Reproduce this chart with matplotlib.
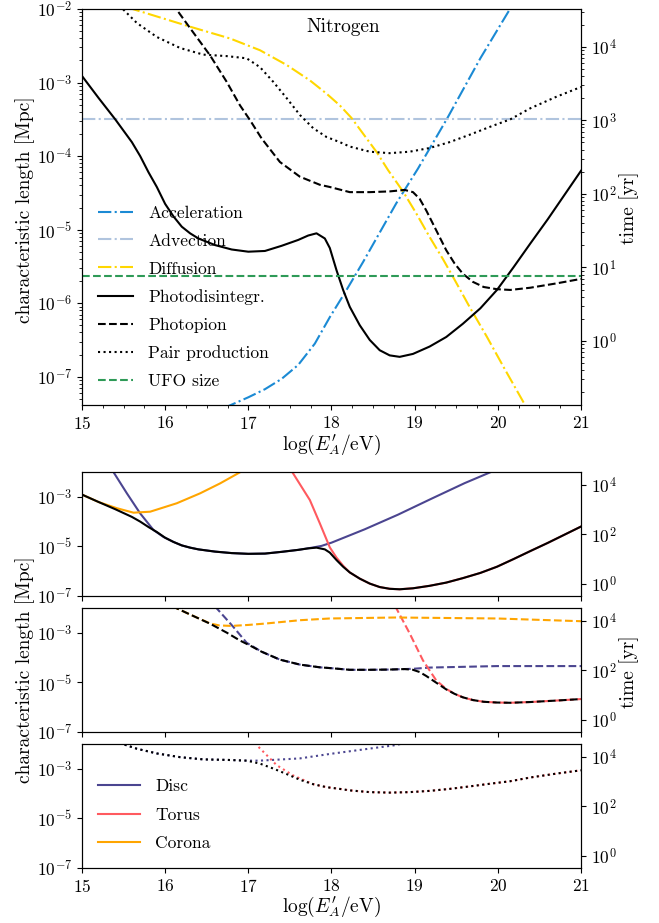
import numpy as np
import matplotlib
matplotlib.use("Agg")
import matplotlib.pyplot as plt
from matplotlib.lines import Line2D
from matplotlib.ticker import AutoMinorLocator, NullLocator

plt.rcParams["font.family"] = "serif"
plt.rcParams["font.serif"] = ["cmr10"]
plt.rcParams["mathtext.fontset"] = "cm"
plt.rcParams["axes.formatter.use_mathtext"] = True
plt.rcParams["axes.unicode_minus"] = False

# ---------------------------------------------------------------------------
# data: log10(E'_A / eV) and log10(characteristic length / Mpc)
# ---------------------------------------------------------------------------
MPC_TO_YR = 3.2616e6          # light travel time of 1 Mpc in yr

E_pd = [15.0, 15.2, 15.4, 15.6, 15.7, 15.8, 15.9, 16.0, 16.1, 16.2, 16.3, 16.4,
        16.6, 16.8, 17.0, 17.2, 17.4, 17.6, 17.72, 17.82, 17.92, 17.98, 18.06,
        18.14, 18.22, 18.34, 18.46, 18.58, 18.70, 18.82, 18.98, 19.18, 19.38,
        19.58, 19.79, 19.99, 20.19, 20.39, 20.6, 20.8, 21.0]
L_pd = [-2.91, -3.21, -3.50, -3.81, -4.00, -4.22, -4.42, -4.65, -4.82, -4.96,
        -5.05, -5.12, -5.21, -5.27, -5.30, -5.29, -5.22, -5.14, -5.08, -5.05,
        -5.12, -5.25, -5.55, -5.82, -6.05, -6.30, -6.50, -6.64, -6.71, -6.73,
        -6.69, -6.59, -6.46, -6.28, -6.07, -5.82, -5.51, -5.19, -4.86, -4.53,
        -4.20]

E_pp = [16.08, 16.14, 16.30, 16.54, 16.74, 16.90, 17.02, 17.16, 17.38, 17.62,
        17.86, 17.98, 18.22, 18.46, 18.70, 18.88, 18.98, 19.06, 19.14, 19.22,
        19.30, 19.38, 19.48, 19.58, 19.70, 19.83, 19.99, 20.15, 20.39, 20.71,
        21.0]
L_pp = [-1.92, -2.01, -2.26, -2.63, -2.99, -3.31, -3.51, -3.76, -4.08, -4.28,
        -4.39, -4.42, -4.49, -4.49, -4.48, -4.46, -4.49, -4.58, -4.74, -4.92,
        -5.10, -5.28, -5.46, -5.60, -5.71, -5.78, -5.81, -5.82, -5.79, -5.73,
        -5.67]

E_pair = [15.45, 15.50, 15.66, 15.90, 16.18, 16.46, 16.74, 16.98, 17.14, 17.30,
          17.46, 17.62, 17.78, 17.94, 18.10, 18.22, 18.46, 18.70, 18.94, 19.18,
          19.42, 19.66, 19.91, 20.15, 20.39, 20.71, 21.0]
L_pair = [-1.95, -2.01, -2.19, -2.38, -2.53, -2.62, -2.64, -2.67, -2.79, -2.99,
          -3.21, -3.44, -3.62, -3.74, -3.81, -3.87, -3.94, -3.96, -3.94, -3.89,
          -3.81, -3.71, -3.60, -3.50, -3.35, -3.19, -3.06]

E_acc = [16.70, 16.78, 17.0, 17.2, 17.4, 17.6, 17.8, 17.98, 18.16, 18.38,
         18.58, 18.78, 19.04, 19.39, 19.79, 20.13, 20.20]
L_acc = [-7.43, -7.39, -7.28, -7.17, -7.03, -6.84, -6.55, -6.19, -5.86, -5.44,
         -5.04, -4.64, -4.17, -3.49, -2.67, -2.03, -1.90]

E_diff = [15.55, 15.61, 16.30, 16.78, 17.14, 17.46, 17.74, 17.94, 18.10, 18.24,
          18.54, 18.68, 18.86, 19.02, 19.18, 19.34, 19.46, 19.66, 19.87, 20.09,
          20.33, 20.40]
L_diff = [-1.95, -2.00, -2.24, -2.40, -2.56, -2.76, -2.97, -3.15, -3.31, -3.48,
          -3.94, -4.19, -4.48, -4.78, -5.10, -5.40, -5.64, -6.05, -6.46, -6.91,
          -7.39, -7.52]

E_flat = [15.0, 21.0]
L_adv = [-3.497, -3.497]
L_ufo = [-5.633, -5.633]

# per-target-field contributions (bottom panels)
E_disc_pd = [15.33, 15.38, 15.54, 15.70, 15.86, 15.98, 16.1, 16.2, 16.3, 16.4,
             16.6, 16.8, 17.0, 17.2, 17.4, 17.6, 17.75, 17.88, 18.0, 18.4,
             18.8, 19.2, 19.6, 19.91, 19.96]
L_disc_pd = [-1.80, -2.01, -2.86, -3.67, -4.34, -4.62, -4.82, -4.96, -5.05,
             -5.12, -5.21, -5.27, -5.30, -5.29, -5.22, -5.14, -5.06, -4.98,
             -4.85, -4.31, -3.72, -3.08, -2.45, -2.01, -1.93]
E_torus_pd = [17.50, 17.53, 17.74, 17.86, 17.98, 18.06, 18.14, 18.22, 18.34,
              18.46, 18.58, 18.70, 18.82, 18.98, 19.18, 19.38, 19.58, 19.79,
              19.99, 20.19, 20.39, 20.6, 20.8, 21.0]
L_torus_pd = [-1.90, -2.01, -3.13, -4.07, -5.04, -5.45, -5.78, -6.05, -6.30,
              -6.50, -6.64, -6.71, -6.73, -6.69, -6.59, -6.46, -6.28, -6.07,
              -5.82, -5.51, -5.19, -4.86, -4.53, -4.20]
E_corona_pd = [15.0, 15.2, 15.42, 15.62, 15.82, 16.14, 16.42, 16.66, 16.90,
               16.95]
L_corona_pd = [-2.91, -3.21, -3.46, -3.64, -3.60, -3.26, -2.86, -2.46, -2.01,
               -1.93]

E_disc_pp = [16.60, 16.62, 16.82, 16.98, 17.16, 17.38, 17.62, 17.86, 17.98,
             18.22, 18.46, 18.70, 18.88, 18.98, 19.18, 19.99, 21.0]
L_disc_pp = [-1.92, -2.01, -2.76, -3.40, -3.76, -4.08, -4.28, -4.39, -4.42,
             -4.49, -4.49, -4.48, -4.46, -4.45, -4.40, -4.34, -4.34]
E_torus_pp = [18.76, 18.78, 18.94, 19.10, 19.26, 19.38, 19.48, 19.58, 19.70,
              19.83, 19.99, 20.15, 20.39, 20.71, 21.0]
L_torus_pp = [-1.92, -2.01, -3.02, -4.11, -4.92, -5.26, -5.46, -5.60, -5.71,
              -5.78, -5.81, -5.82, -5.79, -5.73, -5.67]
E_corona_pp = [16.08, 16.14, 16.30, 16.54, 16.65, 16.8, 17.0, 17.22, 17.62,
               17.98, 18.78, 19.99, 21.0]
L_corona_pp = [-1.92, -2.01, -2.26, -2.62, -2.70, -2.72, -2.68, -2.62, -2.49,
               -2.42, -2.38, -2.42, -2.53]

E_disc_pair = [15.45, 15.50, 15.66, 15.90, 16.18, 16.46, 16.74, 16.98, 17.14,
               17.62, 17.98, 18.38, 18.78, 18.85]
L_disc_pair = [-1.95, -2.01, -2.19, -2.38, -2.53, -2.62, -2.64, -2.67, -2.67,
               -2.58, -2.40, -2.22, -2.04, -1.98]
E_torus_pair = [17.08, 17.10, 17.34, 17.54, 17.78, 17.94, 18.10, 18.22, 18.46,
                18.70, 18.94, 19.18, 19.42, 19.66, 19.91, 20.15, 20.39, 20.71,
                21.0]
L_torus_pair = [-1.95, -2.04, -2.85, -3.27, -3.62, -3.74, -3.81, -3.87, -3.94,
                -3.96, -3.94, -3.89, -3.81, -3.71, -3.60, -3.50, -3.35, -3.19,
                -3.06]

C_ACC = "#1b8ad4"
C_ADV = "#b0c4de"
C_DIFF = "#ffd700"
C_UFO = "#2e9a57"
C_DISC = "#4b4590"
C_TORUS = "#ff5a5f"
C_CORONA = "#ffa500"

LW = 1.5
TICK_FS = 12.5
LABEL_FS = 14
LEG_FS = 12.6


def L(a):
    return 10.0 ** np.asarray(a)


fig = plt.figure(figsize=(6.59, 9.23), dpi=100)

# ---------------------------------------------------------------------------
# top panel: all processes
# ---------------------------------------------------------------------------
ax = fig.add_axes([0.1244, 0.5612, 0.7572, 0.4290])
ax.plot(E_acc, L(L_acc), "-.", color=C_ACC, lw=LW, label="Acceleration")
ax.plot(E_flat, L(L_adv), "-.", color=C_ADV, lw=LW, label="Advection")
ax.plot(E_diff, L(L_diff), "-.", color=C_DIFF, lw=LW, label="Diffusion")
ax.plot(E_pd, L(L_pd), "-", color="k", lw=LW, label="Photodisintegr.")
ax.plot(E_pp, L(L_pp), "--", color="k", lw=LW, label="Photopion")
ax.plot(E_pair, L(L_pair), ":", color="k", lw=LW, label="Pair production")
ax.plot(E_flat, L(L_ufo), "--", color=C_UFO, lw=LW, label="UFO size")

ylim_top = (10 ** -7.385, 1e-2)
ax.set_yscale("log")
ax.set_xlim(15, 21)
ax.set_ylim(*ylim_top)
ax.xaxis.set_minor_locator(AutoMinorLocator(4))
ax.tick_params(labelsize=TICK_FS)
ax.text(0.523, 0.955, "Nitrogen", transform=ax.transAxes, ha="center",
        va="center", fontsize=LABEL_FS)
ax.legend(loc="lower left", frameon=False, fontsize=LEG_FS, handlelength=2.0,
          handletextpad=0.9, labelspacing=0.72, borderaxespad=0.5)

axr = ax.twinx()
axr.set_yscale("log")
axr.set_ylim(ylim_top[0] * MPC_TO_YR, ylim_top[1] * MPC_TO_YR)
axr.tick_params(labelsize=TICK_FS)

fig.text(25 / 659, 1 - 210 / 923, "characteristic length [Mpc]", rotation=90,
         ha="center", va="center", fontsize=LABEL_FS)
fig.text(629 / 659, 1 - 208 / 923, "time [yr]", rotation=90,
         ha="center", va="center", fontsize=LABEL_FS)
fig.text(331 / 659, 1 - 445 / 923, r"$\log(E^{\prime}_A/\mathrm{eV})$",
         ha="center", va="center", fontsize=LABEL_FS)

# ---------------------------------------------------------------------------
# bottom panels: split by target photon field
# ---------------------------------------------------------------------------
panels = [
    ("-", (E_disc_pd, L_disc_pd), (E_torus_pd, L_torus_pd),
     (E_corona_pd, L_corona_pd), (E_pd, L_pd)),
    ("--", (E_disc_pp, L_disc_pp), (E_torus_pp, L_torus_pp),
     (E_corona_pp, L_corona_pp), (E_pp, L_pp)),
    (":", (E_disc_pair, L_disc_pair), (E_torus_pair, L_torus_pair),
     None, (E_pair, L_pair)),
]
bottoms = [0.3543, 0.2069, 0.0596]
height = 0.1343

for i, (ls, disc, torus, corona, total) in enumerate(panels):
    axb = fig.add_axes([0.1244, bottoms[i], 0.7572, height])
    axb.plot(disc[0], L(disc[1]), ls, color=C_DISC, lw=LW)
    axb.plot(torus[0], L(torus[1]), ls, color=C_TORUS, lw=LW)
    if corona is not None:
        axb.plot(corona[0], L(corona[1]), ls, color=C_CORONA, lw=LW)
    axb.plot(total[0], L(total[1]), ls, color="k", lw=LW)

    axb.set_yscale("log")
    axb.set_xlim(15, 21)
    axb.set_ylim(1e-7, 1e-2)
    axb.set_yticks([1e-7, 1e-5, 1e-3])
    axb.yaxis.set_minor_locator(NullLocator())
    axb.set_xticks(range(15, 22))
    axb.tick_params(labelsize=TICK_FS)
    if i < 2:
        axb.tick_params(labelbottom=False)

    axbr = axb.twinx()
    axbr.set_yscale("log")
    axbr.set_ylim(1e-7 * MPC_TO_YR, 1e-2 * MPC_TO_YR)
    axbr.set_yticks([1e0, 1e2, 1e4])
    axbr.yaxis.set_minor_locator(NullLocator())
    axbr.tick_params(labelsize=TICK_FS)

    if i == 2:
        handles = [Line2D([], [], color=C_DISC, lw=LW),
                   Line2D([], [], color=C_TORUS, lw=LW),
                   Line2D([], [], color=C_CORONA, lw=LW)]
        axb.legend(handles, ["Disc", "Torus", "Corona"], loc="upper left",
                   bbox_to_anchor=(0.0, 0.845), frameon=False, fontsize=LEG_FS,
                   handlelength=2.4, handletextpad=0.9, labelspacing=0.75)

fig.text(25 / 659, 1 - 670 / 923, "characteristic length [Mpc]", rotation=90,
         ha="center", va="center", fontsize=LABEL_FS)
fig.text(629 / 659, 1 - 672 / 923, "time [yr]", rotation=90,
         ha="center", va="center", fontsize=LABEL_FS)
fig.text(331 / 659, 1 - 907 / 923, r"$\log(E^{\prime}_A/\mathrm{eV})$",
         ha="center", va="center", fontsize=LABEL_FS)

fig.savefig("out.png", dpi=100)
